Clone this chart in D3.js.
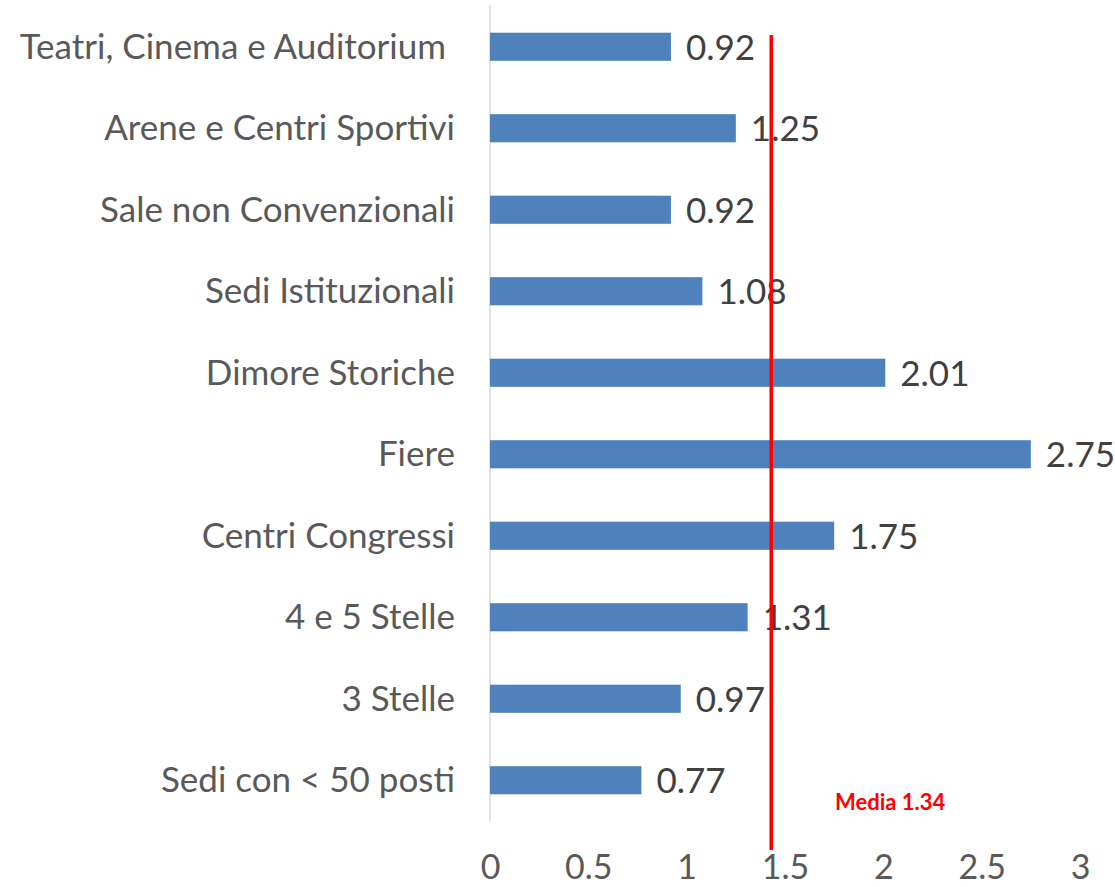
<!DOCTYPE html>
<html><head><meta charset="utf-8">
<script src="https://cdn.jsdelivr.net/npm/d3@7"></script>
<style>html,body{margin:0;padding:0;background:#fff;}</style>
</head><body>
<svg id="c" width="1115" height="887"></svg>
<script>
const categories = ["Teatri, Cinema e Auditorium","Arene e Centri Sportivi","Sale non Convenzionali","Sedi Istituzionali","Dimore Storiche","Fiere","Centri Congressi","4 e 5 Stelle","3 Stelle","Sedi con < 50 posti"];
const values = [0.92,1.25,0.92,1.08,2.01,2.75,1.75,1.31,0.97,0.77];
const xTicks = [0,0.5,1,1.5,2,2.5,3];
const meanLabel = "Media 1.34";
const meanLinePos = 1.43;

const svg = d3.select("#c");
const font = "Lato, 'Open Sans', sans-serif";
const fs = 35;
const x = d3.scaleLinear().domain([0,3]).range([490,1080]);
const y = d3.scaleBand().domain(categories).range([6,821]).padding(0);
const barH = y.bandwidth()*0.345;

// axis line
svg.append("line").attr("x1",x(0)).attr("x2",x(0)).attr("y1",5).attr("y2",821)
  .attr("stroke","#d9d9d9").attr("stroke-width",1.5);

svg.selectAll("rect.bar").data(values).enter().append("rect")
  .attr("x",x(0)).attr("y",(d,i)=>y(categories[i])+y.bandwidth()/2-barH/2)
  .attr("width",d=>x(d)-x(0)).attr("height",barH).attr("fill","#4f81bd");

svg.selectAll("text.val").data(values).enter().append("text")
  .attr("x",d=>x(d)+15).attr("y",(d,i)=>y(categories[i])+y.bandwidth()/2+13)
  .attr("font-family",font).attr("font-size",fs).attr("fill","#404040")
  .text(d=>d.toFixed(2));

svg.selectAll("text.cat").data(categories).enter().append("text")
  .attr("x",455).attr("y",d=>y(d)+y.bandwidth()/2+12)
  .attr("text-anchor","end").attr("font-family",font).attr("font-size",fs).attr("fill","#595959")
  .style("white-space","pre")
  .text((d,i)=> i===0 ? d+"\u00a0" : d);

// mean line
svg.append("line").attr("x1",x(meanLinePos)).attr("x2",x(meanLinePos)).attr("y1",35).attr("y2",850)
  .attr("stroke","#ff0000").attr("stroke-width",3.5);
svg.append("text").attr("x",835).attr("y",810).attr("font-family",font).attr("font-weight","bold")
  .attr("font-size",22).attr("fill","#ff0000").text(meanLabel);

// x axis
const ax = d3.axisBottom(x).tickValues(xTicks).tickSize(0).tickPadding(0).tickFormat(d=>String(d));
const g = svg.append("g").attr("transform","translate(0,879)").call(ax);
g.select(".domain").remove();
g.selectAll("text").attr("font-family",font).attr("font-size",34).attr("fill","#595959").attr("dy","0").attr("y",0);
</script>
</body></html>
